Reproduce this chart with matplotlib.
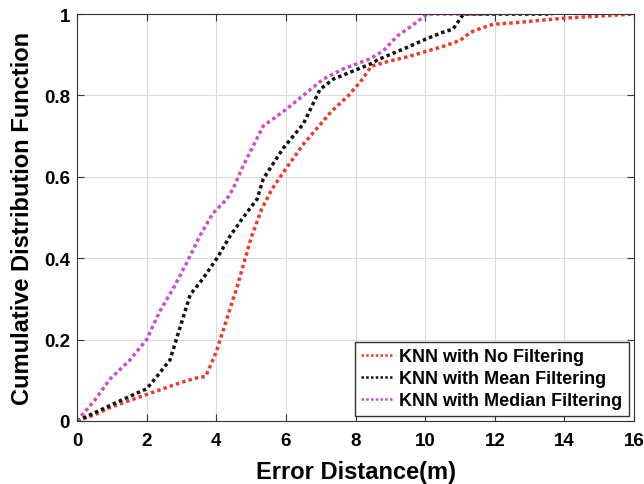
import numpy as np
import matplotlib.pyplot as plt

plt.rcParams['font.family'] = ['Liberation Sans', 'DejaVu Sans']
plt.rcParams['font.weight'] = 'bold'

# KNN with No Filtering
x_none = [0, 0.5, 1, 1.5, 2, 2.5, 3, 3.4, 3.7, 4.0, 4.3, 4.6, 5.0, 5.3, 5.6, 6.0, 6.5,
          7.0, 7.3, 7.8, 8.2, 8.45, 9.0, 9.5, 10.06, 10.5, 11.0, 11.3, 11.6, 11.96,
          12.5, 13.0, 14.0, 15.0, 16.0]
y_none = [0, 0.015, 0.035, 0.05, 0.065, 0.08, 0.095, 0.105, 0.11, 0.17, 0.25, 0.33,
          0.45, 0.52, 0.57, 0.62, 0.68, 0.73, 0.76, 0.80, 0.84, 0.872, 0.885, 0.895,
          0.909, 0.92, 0.935, 0.955, 0.965, 0.975, 0.978, 0.982, 0.99, 0.995, 1.0]

# KNN with Mean Filtering
x_mean = [0, 0.5, 1, 1.5, 2.0, 2.3, 2.67, 2.96, 3.25, 3.62, 4.02, 4.4, 4.77, 5.17,
          5.35, 5.92, 6.5, 6.98, 7.36, 7.93, 8.42, 8.7, 9.4, 10.06, 10.5, 10.8,
          11.1, 12.0, 13.0, 13.65]
y_mean = [0, 0.02, 0.04, 0.06, 0.079, 0.11, 0.15, 0.23, 0.31, 0.35, 0.40, 0.455,
          0.50, 0.545, 0.595, 0.67, 0.73, 0.815, 0.84, 0.86, 0.877, 0.89, 0.915,
          0.94, 0.955, 0.963, 1.0, 1.0, 1.0, 1.0]

# KNN with Median Filtering
x_median = [0, 0.5, 0.95, 1.52, 2.0, 2.38, 2.76, 3.16, 3.53, 3.9, 4.3, 4.48, 4.77,
            5.35, 5.92, 6.5, 7.07, 7.64, 8.42, 8.8, 9.2, 9.6, 10.06, 10.5, 11.0, 11.7]
y_median = [0, 0.05, 0.103, 0.15, 0.20, 0.27, 0.325, 0.39, 0.455, 0.51, 0.545, 0.57,
            0.627, 0.725, 0.76, 0.80, 0.84, 0.865, 0.89, 0.91, 0.946, 0.97, 1.0, 1.0,
            1.0, 1.0]

labels = ['KNN with No Filtering', 'KNN with Mean Filtering', 'KNN with Median Filtering']
colors = ['#ee3a2c', '#111111', '#c94fc9']

fig = plt.figure(figsize=(6.44, 4.85), dpi=100)
ax = fig.add_axes([0.1196, 0.130, 0.865, 0.839])

dots = (0, (1, 0.9))
ax.plot(x_none, y_none, linestyle=dots, color=colors[0], linewidth=2.5, label=labels[0])
ax.plot(x_mean, y_mean, linestyle=dots, color=colors[1], linewidth=2.5, label=labels[1])
ax.plot(x_median, y_median, linestyle=dots, color=colors[2], linewidth=2.5, label=labels[2])

ax.set_xlim(0, 16)
ax.set_ylim(0, 1)
ax.set_xticks(np.arange(0, 17, 2))
ax.set_yticks([0, 0.2, 0.4, 0.6, 0.8, 1.0])
ax.set_yticklabels(['0', '0.2', '0.4', '0.6', '0.8', '1'])
ax.tick_params(direction='in', top=True, right=True, labelsize=13.5, length=5,
               color='#333333', pad=5)
ax.tick_params(axis='x', pad=8)
for lab in ax.get_xticklabels() + ax.get_yticklabels():
    lab.set_fontweight('bold')
ax.grid(True, color='#dddddd', linewidth=0.8)
for s in ax.spines.values():
    s.set_color('#333333')

ax.set_xlabel('Error Distance(m)', fontsize=17, fontweight='bold', labelpad=8)
ax.set_ylabel('Cumulative Distribution Function', fontsize=17, fontweight='bold',
              labelpad=7)

leg = ax.legend(loc='lower right', handlelength=1.8, handletextpad=0.3,
                borderpad=0.35, labelspacing=0.28, fancybox=False, framealpha=1,
                edgecolor='#333333', borderaxespad=0.3,
                prop={'weight': 'bold', 'size': 13})
for h in leg.get_lines():
    h.set_linewidth(1.8)

fig.savefig('out.png', dpi=100)
